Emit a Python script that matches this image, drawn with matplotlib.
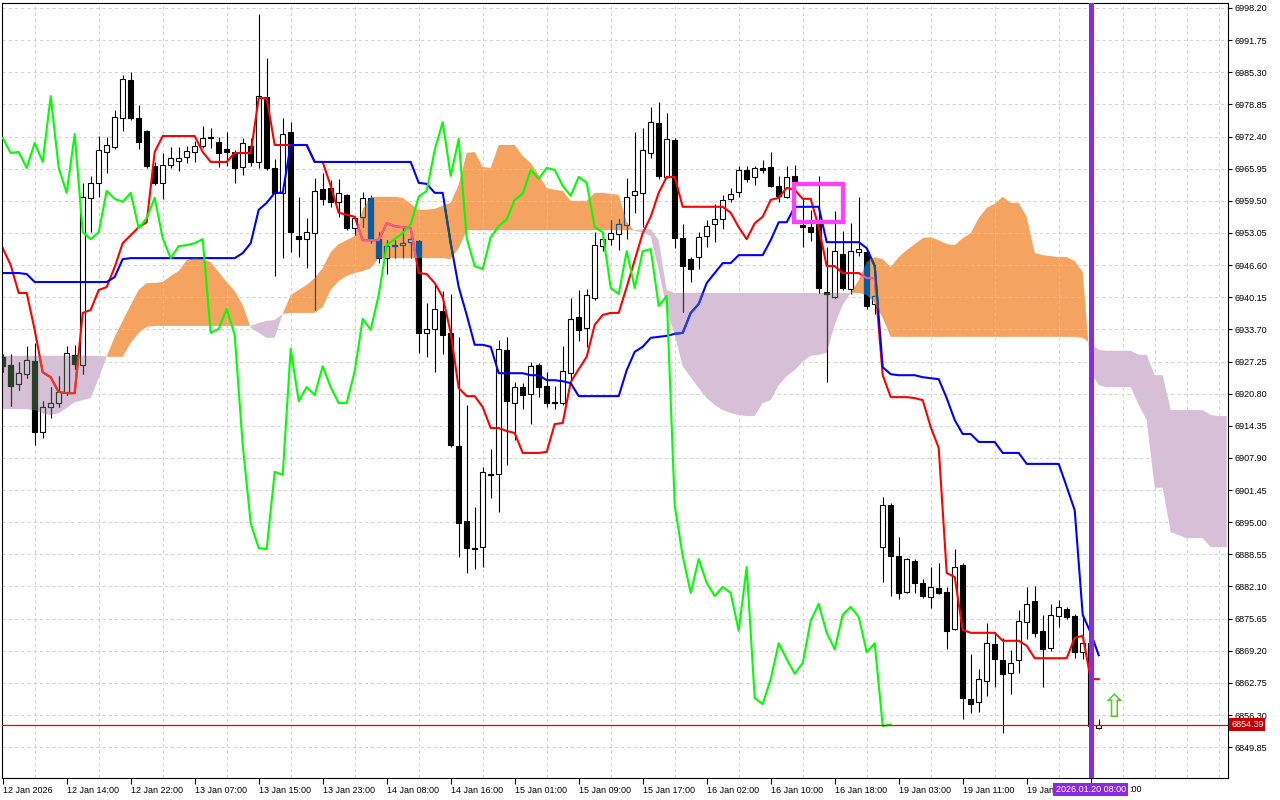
import numpy as np
import matplotlib.pyplot as plt
import matplotlib.transforms as mtransforms
from matplotlib.path import Path
from matplotlib.patches import Rectangle

plt.rcParams['font.family'] = ['Liberation Sans', 'DejaVu Sans']

# H1 bars, oldest first (bar index 0..137)
opens = [6928.2, 6926.5, 6922.7, 6924.7, 6927.4, 6913.1, 6918.1, 6918.9, 6921.1, 6928.6,
         6926.5, 6960.1, 6963.1, 6969.3, 6970.3, 6976.1, 6983.7, 6976.1, 6973.5, 6966.5,
         6963.1, 6966.7, 6967.5, 6968.3, 6969.3, 6970.5, 6972.3, 6971.3, 6969.9, 6969.3,
         6966.3, 6970.5, 6967.3, 6980.3, 6966.1, 6961.1, 6973.3, 6952.4, 6951.8, 6953.0,
         6961.9, 6962.1, 6959.3, 6960.7, 6954.0, 6956.3, 6960.1, 6951.8, 6948.0, 6950.4,
         6950.6, 6951.2, 6951.4, 6933.0, 6933.8, 6937.4, 6933.0, 6910.3, 6895.2, 6889.8,
         6890.0, 6904.7, 6904.7, 6929.6, 6918.9, 6922.1, 6920.7, 6926.5, 6922.3, 6919.1,
         6918.9, 6924.9, 6936.2, 6934.0, 6940.0, 6950.4, 6951.8, 6952.8, 6954.6, 6960.7,
         6961.1, 6969.1, 6975.1, 6964.3, 6971.7, 6952.0, 6947.8, 6948.2, 6952.4, 6954.8,
         6955.8, 6959.9, 6961.3, 6965.7, 6964.3, 6966.1, 6966.3, 6962.5, 6960.3, 6964.5,
         6954.6, 6954.2, 6955.2, 6941.2, 6940.2, 6948.8, 6941.8, 6949.2, 6949.2, 6938.8,
         6890.0, 6898.4, 6888.2, 6881.0, 6887.2, 6882.8, 6880.0, 6881.8, 6881.0, 6873.6,
         6886.4, 6859.5, 6858.9, 6863.1, 6870.5, 6867.3, 6864.8, 6867.3, 6875.0, 6879.2,
         6873.2, 6869.7, 6876.2, 6877.6, 6876.2, 6868.9, 6870.7, 6853.7]
highs = [6928.8, 6928.8, 6927.2, 6930.4, 6931.0, 6919.3, 6922.1, 6924.3, 6930.4, 6930.6,
         6963.1, 6964.5, 6972.5, 6972.3, 6977.7, 6984.8, 6985.4, 6978.7, 6973.7, 6967.3,
         6969.1, 6970.3, 6970.3, 6970.5, 6971.5, 6974.5, 6974.1, 6972.3, 6973.3, 6969.7,
         6972.1, 6972.1, 6997.0, 6988.2, 6967.9, 6976.1, 6975.3, 6960.3, 6956.0, 6964.1,
         6965.1, 6963.7, 6963.9, 6960.9, 6956.5, 6961.3, 6960.7, 6953.2, 6951.6, 6951.6,
         6954.0, 6952.6, 6951.6, 6939.0, 6942.8, 6941.4, 6940.8, 6932.2, 6918.5, 6898.0,
         6906.1, 6909.7, 6931.6, 6932.2, 6923.1, 6922.9, 6927.2, 6926.9, 6925.1, 6922.3,
         6930.4, 6940.0, 6941.6, 6941.8, 6953.2, 6953.2, 6955.6, 6955.8, 6964.1, 6973.3,
         6974.1, 6978.3, 6979.3, 6977.1, 6972.1, 6954.8, 6948.2, 6953.2, 6955.6, 6958.9,
         6960.7, 6962.1, 6966.5, 6966.5, 6966.5, 6967.7, 6969.3, 6964.5, 6966.5, 6966.7,
         6960.1, 6957.7, 6964.5, 6950.2, 6957.5, 6953.4, 6955.0, 6960.3, 6950.0, 6941.6,
         6900.1, 6898.8, 6892.0, 6887.8, 6887.6, 6883.6, 6886.0, 6886.8, 6882.0, 6889.6,
         6886.8, 6868.5, 6865.5, 6874.8, 6873.0, 6871.8, 6869.3, 6877.4, 6882.0, 6882.2,
         6876.4, 6878.6, 6879.4, 6878.0, 6876.6, 6876.4, 6871.3, 6855.5]
lows = [6925.1, 6918.3, 6921.5, 6923.9, 6910.5, 6911.9, 6915.9, 6918.1, 6920.5, 6925.7,
        6924.7, 6953.2, 6960.3, 6965.1, 6969.9, 6973.5, 6975.7, 6969.9, 6966.1, 6962.7,
        6959.9, 6966.1, 6965.5, 6967.1, 6967.3, 6970.1, 6970.1, 6966.3, 6966.5, 6963.1,
        6964.7, 6966.5, 6966.1, 6965.7, 6944.4, 6948.0, 6949.2, 6948.2, 6946.0, 6937.6,
        6958.7, 6958.3, 6956.3, 6953.6, 6952.6, 6954.2, 6951.0, 6947.0, 6944.8, 6948.0,
        6948.0, 6948.0, 6929.0, 6928.2, 6925.1, 6928.8, 6910.1, 6888.0, 6884.8, 6885.6,
        6886.0, 6899.9, 6897.0, 6906.5, 6911.5, 6917.7, 6914.7, 6920.1, 6918.1, 6917.7,
        6918.5, 6923.5, 6931.4, 6930.2, 6939.6, 6949.4, 6950.6, 6949.6, 6951.8, 6957.1,
        6954.2, 6968.1, 6963.9, 6964.1, 6950.0, 6937.2, 6943.2, 6945.8, 6950.2, 6951.2,
        6953.8, 6959.3, 6960.3, 6963.3, 6962.7, 6965.1, 6962.3, 6959.3, 6960.1, 6962.7,
        6950.2, 6951.4, 6941.0, 6923.1, 6940.0, 6941.6, 6940.8, 6948.4, 6937.8, 6936.8,
        6883.0, 6880.2, 6879.6, 6880.8, 6880.8, 6879.8, 6877.8, 6880.6, 6869.5, 6873.4,
        6855.5, 6856.7, 6856.9, 6860.1, 6861.9, 6852.7, 6860.5, 6864.8, 6871.5, 6871.9,
        6861.9, 6869.1, 6874.0, 6875.6, 6867.7, 6867.5, 6844.9, 6853.5]
closes = [6926.3, 6922.3, 6924.9, 6927.6, 6913.1, 6918.1, 6918.9, 6921.1, 6929.0, 6926.7,
          6960.3, 6963.1, 6969.7, 6970.7, 6976.3, 6983.9, 6976.1, 6971.3, 6966.5, 6963.1,
          6966.7, 6968.1, 6968.1, 6969.5, 6970.5, 6972.1, 6972.1, 6969.1, 6969.3, 6966.1,
          6971.1, 6967.3, 6980.5, 6966.1, 6961.1, 6972.9, 6953.2, 6951.8, 6953.2, 6961.5,
          6959.9, 6959.3, 6961.1, 6954.0, 6956.0, 6960.1, 6952.0, 6948.0, 6950.4, 6950.6,
          6951.0, 6951.8, 6933.0, 6933.8, 6937.8, 6932.6, 6910.5, 6894.8, 6889.8, 6889.6,
          6905.1, 6904.5, 6929.8, 6919.3, 6922.1, 6920.5, 6926.3, 6922.1, 6918.9, 6918.9,
          6925.3, 6935.8, 6933.6, 6940.6, 6950.6, 6951.8, 6953.0, 6954.8, 6960.3, 6961.5,
          6969.7, 6975.3, 6964.5, 6971.9, 6952.0, 6946.4, 6945.8, 6952.2, 6954.4, 6955.8,
          6959.7, 6960.9, 6965.7, 6963.9, 6966.1, 6965.7, 6962.5, 6960.5, 6964.3, 6963.1,
          6954.2, 6953.2, 6942.0, 6940.8, 6949.4, 6942.0, 6949.4, 6949.8, 6938.4, 6940.4,
          6898.4, 6888.2, 6880.8, 6887.6, 6882.8, 6880.2, 6882.0, 6880.8, 6873.2, 6886.0,
          6859.7, 6858.5, 6863.5, 6870.7, 6867.5, 6864.6, 6866.7, 6875.2, 6878.6, 6872.8,
          6869.5, 6876.4, 6878.0, 6876.0, 6868.9, 6870.7, 6854.1, 6854.39]

tenkan = [6950.0, 6946.6, 6941.0, 6941.0, 6933.6, 6925.1, 6924.1, 6921.1, 6920.9, 6920.9,
          6937.0, 6937.6, 6941.6, 6942.2, 6946.2, 6951.0, 6952.6, 6954.2, 6955.2, 6969.3,
          6972.5, 6972.5, 6972.5, 6972.5, 6972.5, 6969.3, 6967.3, 6967.3, 6967.3, 6969.1,
          6969.1, 6969.1, 6980.1, 6980.1, 6970.7, 6970.7, 6970.7, 6970.7, 6970.7, 6967.3,
          6967.3, 6962.5, 6957.1, 6956.7, 6956.3, 6951.6, 6951.6, 6951.6, 6955.0, 6954.4,
          6954.2, 6954.0, 6945.0, 6944.8, 6943.0, 6940.2, 6933.0, 6921.9, 6920.3, 6920.3,
          6918.1, 6913.9, 6913.9, 6913.3, 6912.9, 6908.9, 6908.9, 6908.9, 6909.1, 6914.7,
          6914.9, 6923.1, 6925.7, 6928.2, 6934.6, 6936.6, 6937.0, 6937.0, 6942.2, 6947.6,
          6953.0, 6956.3, 6961.1, 6964.3, 6964.3, 6958.3, 6958.3, 6958.3, 6958.3, 6958.3,
          6958.3, 6957.1, 6954.2, 6951.8, 6955.0, 6956.3, 6959.7, 6960.1, 6962.1, 6961.7,
          6959.9, 6959.9, 6954.2, 6946.4, 6946.4, 6945.0, 6945.0, 6945.0, 6944.0, 6944.0,
          6924.5, 6920.1, 6920.1, 6920.1, 6919.9, 6919.5, 6914.1, 6909.9, 6884.8, 6884.0,
          6873.4, 6872.8, 6872.8, 6872.8, 6872.8, 6871.2, 6871.2, 6871.2, 6870.2, 6867.7,
          6867.7, 6867.7, 6867.7, 6867.7, 6871.8, 6872.2, 6863.5, 6863.5]
kijun = [6945.0, 6945.0, 6945.0, 6944.8, 6943.2, 6943.2, 6943.2, 6943.2, 6943.2, 6943.2,
         6943.2, 6943.2, 6943.2, 6943.2, 6944.2, 6947.8, 6948.0, 6948.0, 6948.0, 6948.0,
         6948.0, 6948.0, 6948.0, 6948.0, 6948.0, 6948.0, 6948.0, 6948.0, 6948.0, 6948.0,
         6949.0, 6951.0, 6957.7, 6959.1, 6961.1, 6961.1, 6970.7, 6970.7, 6970.7, 6967.3,
         6967.3, 6967.3, 6967.3, 6967.3, 6967.3, 6967.3, 6967.3, 6967.3, 6967.3, 6967.3,
         6967.3, 6967.3, 6963.1, 6962.9, 6961.1, 6961.1, 6951.0, 6942.2, 6936.6, 6930.6,
         6930.6, 6930.2, 6924.9, 6924.9, 6924.9, 6924.9, 6924.5, 6924.5, 6923.5, 6923.5,
         6923.3, 6922.9, 6920.3, 6920.3, 6920.3, 6920.3, 6920.3, 6920.3, 6925.5, 6929.2,
         6930.2, 6932.0, 6932.2, 6932.4, 6932.8, 6933.0, 6937.0, 6938.8, 6943.0, 6945.0,
         6947.0, 6947.0, 6948.6, 6948.6, 6948.6, 6948.6, 6951.6, 6955.2, 6955.2, 6958.3,
         6958.3, 6958.3, 6958.3, 6951.2, 6951.2, 6951.2, 6951.2, 6951.2, 6950.0, 6946.4,
         6926.1, 6924.7, 6924.5, 6924.5, 6924.5, 6924.1, 6923.9, 6923.7, 6919.9, 6915.5,
         6912.7, 6912.7, 6911.1, 6911.1, 6911.1, 6908.9, 6908.9, 6908.9, 6906.7, 6906.7,
         6906.7, 6906.7, 6906.7, 6902.1, 6897.4, 6876.4, 6872.8, 6868.3]

# senkou spans, already shifted 26 bars ahead (bar index 0..153)
span_a = [6917.7, 6917.7, 6917.7, 6917.7, 6917.5, 6916.9, 6916.5, 6916.9, 6917.9, 6919.1,
          6919.5, 6919.9, 6923.9, 6928.2, 6932.2, 6935.4, 6938.6, 6941.6, 6943.0, 6943.0,
          6943.2, 6944.4, 6945.4, 6947.6, 6948.0, 6947.8, 6947.2, 6945.2, 6943.2, 6941.4,
          6938.6, 6934.0, 6933.0, 6932.0, 6932.0, 6936.8, 6940.6, 6941.6, 6942.6, 6944.0,
          6946.0, 6949.2, 6950.8, 6951.6, 6952.4, 6957.7, 6960.3, 6960.3, 6960.3, 6960.3,
          6960.1, 6958.9, 6957.7, 6957.7, 6957.9, 6958.5, 6959.1, 6962.7, 6969.1, 6969.3,
          6966.3, 6966.1, 6970.7, 6970.7, 6970.7, 6968.5, 6967.1, 6964.7, 6962.1, 6961.7,
          6961.5, 6959.5, 6959.5, 6959.5, 6961.1, 6961.1, 6960.9, 6960.7, 6955.2, 6953.4,
          6953.2, 6952.4, 6945.6, 6937.6, 6932.6, 6926.3, 6924.1, 6921.9, 6919.9, 6918.5,
          6917.5, 6916.9, 6916.5, 6916.3, 6916.3, 6918.9, 6919.5, 6922.5, 6924.3, 6925.5,
          6927.2, 6928.4, 6928.6, 6929.0, 6934.6, 6938.6, 6941.0, 6943.6, 6947.2, 6948.2,
          6947.8, 6946.2, 6948.2, 6949.6, 6950.8, 6952.0, 6952.2, 6951.6, 6950.8, 6950.6,
          6952.0, 6953.0, 6956.0, 6958.1, 6958.9, 6960.3, 6959.1, 6959.1, 6956.3, 6949.0,
          6948.6, 6948.4, 6948.2, 6948.2, 6947.4, 6945.2, 6925.1, 6922.5, 6922.1, 6922.1,
          6922.1, 6922.1, 6918.5, 6915.5, 6901.9, 6901.9, 6893.0, 6892.4, 6891.8, 6891.8,
          6891.8, 6890.0, 6890.0, 6890.0]
span_b = [6928.4, 6928.4, 6928.4, 6928.4, 6928.4, 6928.4, 6928.4, 6928.4, 6928.4, 6928.4,
          6928.4, 6928.4, 6928.4, 6928.2, 6928.2, 6928.2, 6931.0, 6933.0, 6934.2, 6934.4,
          6934.4, 6934.4, 6934.4, 6934.4, 6934.4, 6934.4, 6934.4, 6934.4, 6934.4, 6934.4,
          6934.4, 6934.4, 6935.0, 6935.4, 6935.6, 6936.8, 6937.0, 6937.0, 6937.0, 6937.0,
          6938.2, 6941.6, 6943.4, 6944.4, 6945.0, 6945.4, 6946.0, 6948.0, 6948.0, 6948.0,
          6948.0, 6948.0, 6948.0, 6948.0, 6948.0, 6948.0, 6947.8, 6950.0, 6953.6, 6953.6,
          6953.6, 6953.6, 6953.6, 6953.6, 6953.6, 6953.6, 6953.6, 6953.6, 6953.6, 6953.6,
          6953.6, 6953.6, 6953.6, 6953.6, 6953.6, 6953.6, 6953.6, 6953.6, 6953.6, 6953.6,
          6953.8, 6953.8, 6951.6, 6941.6, 6941.0, 6941.0, 6941.0, 6941.0, 6941.0, 6941.0,
          6941.0, 6941.0, 6941.0, 6941.0, 6941.0, 6941.0, 6941.0, 6941.0, 6941.0, 6941.0,
          6941.0, 6941.0, 6941.0, 6941.0, 6941.0, 6941.0, 6941.0, 6941.0, 6940.6, 6939.0,
          6936.0, 6932.2, 6932.2, 6932.2, 6932.2, 6932.2, 6932.2, 6932.2, 6932.2, 6932.2,
          6932.2, 6932.2, 6932.2, 6932.2, 6932.2, 6932.2, 6932.2, 6932.2, 6932.2, 6932.2,
          6932.2, 6932.2, 6932.2, 6932.2, 6932.2, 6932.0, 6930.8, 6929.6, 6929.4, 6929.4,
          6929.4, 6929.4, 6928.6, 6928.6, 6924.5, 6924.5, 6917.5, 6917.5, 6917.5, 6917.5,
          6917.5, 6916.5, 6916.3, 6916.3]

# axis labels every 8 bars; the last two are mostly hidden by the vertical-line tag
time_labels = ["12 Jan 2026", "12 Jan 14:00", "12 Jan 22:00", "13 Jan 07:00", "13 Jan 15:00",
               "13 Jan 23:00", "14 Jan 08:00", "14 Jan 16:00", "15 Jan 01:00", "15 Jan 09:00",
               "15 Jan 17:00", "16 Jan 02:00", "16 Jan 10:00", "16 Jan 18:00", "19 Jan 03:00",
               "19 Jan 11:00", "19 Jan", ""]
hidden_label_tail = ":00"
price_ticks = [6849.85 + 6.45 * i for i in range(24)]

last_price = 6854.39
vline_bar = 136
vline_label = "2026.01.20 08:00"
box_bars = (98.9, 105.0)
box_prices = (6955.3, 6962.8)
arrow_bar = 138.9
arrow_price = 6857.6

ORANGE = '#F4A460'
THISTLE = '#D8BFD8'


def xor(c1, c2):
    return '#%06X' % (int(c1[1:], 16) ^ int(c2[1:], 16))


fig = plt.figure(figsize=(12.8, 8), dpi=100)
ax = fig.add_axes([2 / 1280, 22 / 800, 1226 / 1280, 775 / 800])
ax.set_xlim(-0.0875, 153.16)
ax.set_ylim(6843.66, 6999.2)

idx = np.arange(len(opens))
o = np.array(opens)
c = np.array(closes)
up = c >= o

# cloud
kc = np.arange(len(span_a))
a = np.array(span_a)
b = np.array(span_b)
cloud_up = ax.fill_between(kc, a, b, where=a >= b, interpolate=True, color=ORANGE, lw=0, zorder=1)
cloud_dn = ax.fill_between(kc, a, b, where=a < b, interpolate=True, color=THISTLE, lw=0, zorder=1)


def draw_price(fill, ink, red, blue, z, clip=None):
    arts = [ax.vlines(idx, lows, highs, color=ink, lw=0.8, zorder=z)]
    bars = ax.bar(idx, c - o, bottom=o, width=0.6, color=np.where(up, fill, ink),
                  edgecolor=ink, linewidth=0.8, zorder=z + 0.1)
    arts += list(bars.patches)
    arts += ax.plot(idx, tenkan, color=red, lw=1.5, zorder=z + 0.2)
    arts += ax.plot(idx, kijun, color=blue, lw=1.5, zorder=z + 0.2)
    if clip is not None:
        for art in arts:
            art.set_clip_path(clip, ax.transData)


draw_price('white', 'black', '#FF0000', '#0000FF', 2)
# MT4 paints the cloud in XOR mode over candles and lines
for poly, col in ((cloud_up, ORANGE), (cloud_dn, THISTLE)):
    inv = xor(col, '#FFFFFF')
    clip = Path.make_compound_path(*poly.get_paths())
    draw_price(col, inv, xor('#FF0000', inv), xor('#0000FF', inv), 3, clip)

# chikou span
ax.plot(idx[:len(idx) - 26], closes[26:], color='#00FF00', lw=1.5, zorder=4)

ax.axhline(last_price, color='#F00000', lw=0.9, zorder=4.5)
ax.add_patch(Rectangle((box_bars[0], box_prices[0]), box_bars[1] - box_bars[0],
                       box_prices[1] - box_prices[0], fill=False, edgecolor='#FF40FF',
                       lw=3.1, zorder=5))
ax.axvline(vline_bar, color='#8A2BE2', lw=3.6, zorder=6)
ax.text(arrow_bar, arrow_price, "\u21e7", color='#55CC22', fontsize=23, ha='center',
        va='center', family='DejaVu Sans', zorder=6)

# axes
ax.set_axisbelow('line')
ax.set_xticks(range(0, 137, 8))
ax.set_xticklabels(time_labels, ha='left')
ax.set_xticks(range(0, 154, 4), minor=True)
ax.yaxis.tick_right()
ax.set_yticks(price_ticks)
ax.set_yticklabels([f"{v:.2f}" for v in price_ticks])
ax.tick_params(axis='x', which='major', length=4, width=0.8, pad=1.5, labelsize=6.5)
ax.tick_params(axis='x', which='minor', length=0)
ax.tick_params(axis='y', length=3, width=0.8, pad=1.5, labelsize=6.5)
grid_kw = dict(color='#C8C8C8', linestyle=(0, (3, 3)), linewidth=0.75, alpha=0.8)
ax.grid(True, which='minor', axis='x', **grid_kw)
ax.grid(True, which='major', axis='y', **grid_kw)
for s in ax.spines.values():
    s.set_linewidth(0.8)

ytrans = mtransforms.blended_transform_factory(ax.transAxes, ax.transData)
ax.text(1.0, last_price, f"{last_price:.2f}", color='white', fontsize=6.5, ha='left', va='center',
        transform=mtransforms.offset_copy(ytrans, fig=fig, x=3, y=0, units='dots'),
        bbox=dict(boxstyle='square,pad=0.2', fc='#C80000', ec='none'), clip_on=False, zorder=10)
xtrans = mtransforms.blended_transform_factory(ax.transData, ax.transAxes)
tag = ax.text(vline_bar, -0.0148, vline_label, color='white', fontsize=6.5, ha='center',
              va='center', transform=xtrans,
              bbox=dict(boxstyle='square,pad=0.25', fc='#8A2BE2', ec='none'),
              clip_on=False, zorder=10)
# visible end of the date label that sits under the tag
ax.text(vline_bar + 4.75, -0.0148, hidden_label_tail, color='black', fontsize=6.5, ha='left',
        va='center', transform=xtrans, clip_on=False)

fig.savefig('out.png', dpi=100)
